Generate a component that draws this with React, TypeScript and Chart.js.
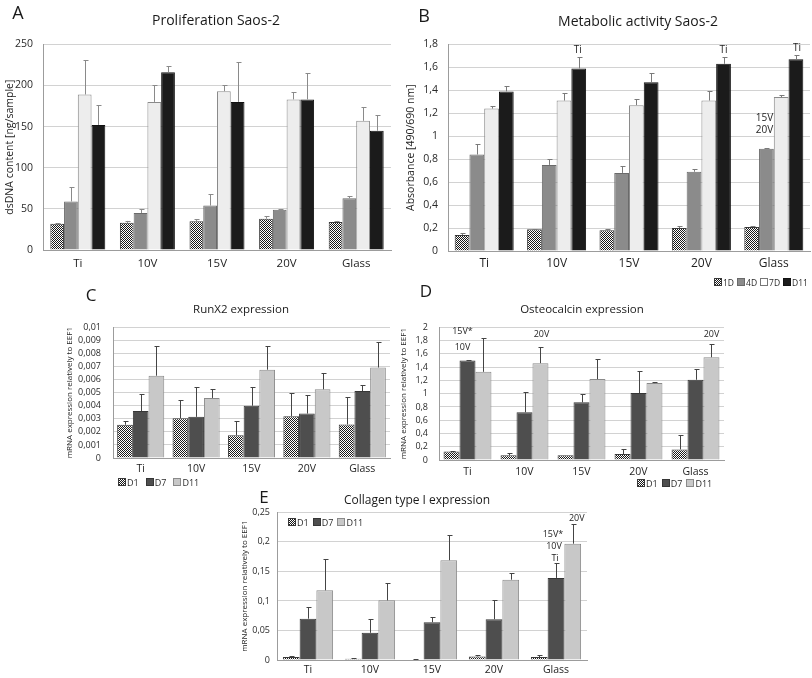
import React, { useEffect, useRef } from 'react';
import { Chart, registerables } from 'chart.js';
Chart.register(...registerables);

const FONT = '"Open Sans", Lato, sans-serif';

const groups = ['Ti', '10V', '15V', '20V', 'Glass'];

// A: Proliferation Saos-2 (dsDNA ng/sample)
const profNames = ['1D', '4D', '7D', 'D11'];
const prof1D = [32, 33, 35, 38, 34];
const prof1DErr = [1, 2, 3, 3, 1];
const prof4D = [59, 45, 54, 49, 63];
const prof4DErr = [18, 5, 14, 1, 3];
const prof7D = [189, 180, 193, 183, 157];
const prof7DErr = [42, 21, 8, 9, 17];
const profD11 = [152, 216, 180, 183, 145];
const profD11Err = [24, 8, 49, 32, 19];

// B: Metabolic activity Saos-2 (absorbance)
const met1D = [0.14, 0.19, 0.18, 0.2, 0.21];
const met1DErr = [0.02, 0.005, 0.01, 0.015, 0.005];
const met4D = [0.84, 0.75, 0.68, 0.69, 0.89];
const met4DErr = [0.09, 0.05, 0.06, 0.025, 0.01];
const met7D = [1.24, 1.31, 1.27, 1.31, 1.34];
const met7DErr = [0.02, 0.07, 0.05, 0.08, 0.02];
const metD11 = [1.39, 1.59, 1.47, 1.63, 1.67];
const metD11Err = [0.05, 0.1, 0.08, 0.06, 0.04];

// C/D/E series names
const exprNames = ['D1', 'D7', 'D11'];

// C: RunX2 expression
const runD1 = [0.00255, 0.00305, 0.00175, 0.0032, 0.00257];
const runD1Err = [0.0003, 0.0014, 0.0011, 0.00176, 0.0021];
const runD7 = [0.0036, 0.00315, 0.004, 0.0034, 0.00513];
const runD7Err = [0.0013, 0.0023, 0.0014, 0.0014, 0.00047];
const runD11 = [0.0063, 0.0046, 0.00676, 0.00526, 0.00693];
const runD11Err = [0.00225, 0.00065, 0.00184, 0.00122, 0.00195];

// D: Osteocalcin expression
const ocnD1 = [0.13, 0.07, 0.07, 0.09, 0.16];
const ocnD1Err = [0.01, 0.03, 0, 0.07, 0.21];
const ocnD7 = [1.5, 0.72, 0.87, 1.01, 1.21];
const ocnD7Err = [0.01, 0.3, 0.13, 0.33, 0.17];
const ocnD11 = [1.33, 1.46, 1.22, 1.16, 1.55];
const ocnD11Err = [0.51, 0.24, 0.3, 0.01, 0.2];

// E: Collagen type I expression
const colD1 = [0.005, 0.002, 0.001, 0.006, 0.005];
const colD1Err = [0.002, 0.001, 0.001, 0.003, 0.004];
const colD7 = [0.07, 0.046, 0.064, 0.069, 0.139];
const colD7Err = [0.019, 0.024, 0.009, 0.032, 0.025];
const colD11 = [0.118, 0.101, 0.169, 0.136, 0.197];
const colD11Err = [0.053, 0.03, 0.043, 0.011, 0.033];

// significance labels: [dataset index, category index, text lines]
const metNotes = [
  { ds: 3, cat: 1, lines: [{ t: 'Ti', dx: -1, dy: -7 }] },
  { ds: 3, cat: 3, lines: [{ t: 'Ti', dx: 0, dy: -7 }] },
  { ds: 3, cat: 4, lines: [{ t: 'Ti', dx: 1, dy: -6 }] },
  { ds: 1, cat: 4, lines: [{ t: '15V', dx: -2, dy: -29 }, { t: '20V', dx: -2, dy: -17 }] },
];
const ocnNotes = [
  { ds: 1, cat: 0, lines: [{ t: '15V*', dx: -5, dy: -28 }, { t: '10V', dx: -5, dy: -12 }] },
  { ds: 2, cat: 1, lines: [{ t: '20V', dx: 1, dy: -13 }] },
  { ds: 2, cat: 4, lines: [{ t: '20V', dx: 0, dy: -10 }] },
];
const colNotes = [
  { ds: 2, cat: 4, lines: [{ t: '20V', dx: 4, dy: -6 }] },
  { ds: 1, cat: 4, lines: [{ t: '15V*', dx: -3, dy: -29 }, { t: '10V', dx: -2, dy: -17 }, { t: 'Ti', dx: -1, dy: -5 }] },
];

const fmt = (v: number, dec: number) => {
  let s = v.toFixed(dec);
  if (s.includes('.')) s = s.replace(/0+$/, '').replace(/\.$/, '');
  return s.replace('.', ',');
};

function makeChecker(ctx: CanvasRenderingContext2D) {
  const c = document.createElement('canvas');
  c.width = 2;
  c.height = 2;
  const g = c.getContext('2d')!;
  g.fillStyle = '#ffffff';
  g.fillRect(0, 0, 2, 2);
  g.fillStyle = '#1a1a1a';
  g.fillRect(0, 0, 1, 1);
  g.fillRect(1, 1, 1, 1);
  return ctx.createPattern(c, 'repeat')!;
}

function errPlugin(color: string, cap: number) {
  return {
    id: 'errbars',
    afterDatasetsDraw(chart: any) {
      const ctx = chart.ctx;
      const ys = chart.scales.y;
      chart.data.datasets.forEach((ds: any, i: number) => {
        const meta = chart.getDatasetMeta(i);
        meta.data.forEach((el: any, j: number) => {
          const e = ds.errors[j];
          if (!e) return;
          const top = Math.round(ys.getPixelForValue(ds.data[j] + e)) + 0.5;
          const x = Math.round(el.x) + 0.5;
          ctx.save();
          ctx.strokeStyle = color;
          ctx.lineWidth = 1;
          ctx.beginPath();
          ctx.moveTo(x, el.y);
          ctx.lineTo(x, top);
          ctx.moveTo(x - cap, top);
          ctx.lineTo(x + cap + 1, top);
          ctx.stroke();
          ctx.restore();
        });
      });
    },
  };
}

function notePlugin(items: any[], size: number, color: string) {
  return {
    id: 'notes',
    afterDatasetsDraw(chart: any) {
      const ctx = chart.ctx;
      const ys = chart.scales.y;
      ctx.save();
      ctx.font = `${size}px ${FONT}`;
      ctx.fillStyle = color;
      ctx.textAlign = 'center';
      ctx.textBaseline = 'middle';
      items.forEach((it) => {
        const ds = chart.data.datasets[it.ds];
        const el = chart.getDatasetMeta(it.ds).data[it.cat];
        const top = ys.getPixelForValue(ds.data[it.cat] + ds.errors[it.cat]);
        it.lines.forEach((l: any) => ctx.fillText(l.t, el.x + l.dx, top + l.dy));
      });
      ctx.restore();
    },
  };
}

type DS = { label: string; data: number[]; errors: number[]; fill: string; border: string };

function BarPanel(p: {
  left: number; top: number; width: number; height: number;
  padT: number; padR: number; yW: number; xH: number;
  yMax: number; yStep: number; dec: number;
  yTitle: string; yTitleSize: number; yTitlePad: number;
  tickSize: number; tickPad: number; xSize: number; xPad: number;
  cp: number; sets: DS[]; errColor: string; cap: number;
  notes: any[]; noteSize: number;
}) {
  const ref = useRef<HTMLCanvasElement>(null);
  useEffect(() => {
    const canvas = ref.current!;
    const ctx = canvas.getContext('2d')!;
    const checker = makeChecker(ctx);
    const chart = new Chart(ctx, {
      type: 'bar',
      data: {
        labels: groups,
        datasets: p.sets.map((s) => ({
          label: s.label,
          data: s.data,
          errors: s.errors,
          backgroundColor: s.fill === 'checker' ? checker : s.fill,
          borderColor: s.border,
          borderWidth: 1,
          categoryPercentage: p.cp,
          barPercentage: 1,
        })) as any,
      },
      options: {
        responsive: false,
        animation: false,
        devicePixelRatio: 1,
        layout: { padding: { left: 0, right: p.padR, top: p.padT, bottom: 0 } },
        plugins: { legend: { display: false }, tooltip: { enabled: false }, title: { display: false } },
        scales: {
          x: {
            grid: { display: false, drawTicks: false },
            border: { display: true, color: '#9c9c9c' },
            ticks: {
              color: '#1e1e1e',
              font: { family: FONT, size: p.xSize },
              padding: p.xPad,
              autoSkip: false,
              maxRotation: 0,
            },
            afterFit: (s: any) => { s.height = p.xH; },
          },
          y: {
            min: 0,
            max: p.yMax,
            ticks: {
              stepSize: p.yStep,
              autoSkip: false,
              color: '#2a2a2a',
              font: { family: FONT, size: p.tickSize },
              padding: p.tickPad,
              callback: (v: any) => fmt(Number(v), p.dec),
            },
            grid: { color: '#d2d2d2', drawTicks: false },
            border: { display: true, color: '#9c9c9c' },
            title: {
              display: true,
              text: p.yTitle,
              color: '#1e1e1e',
              font: { family: FONT, size: p.yTitleSize },
              padding: { top: p.yTitlePad, bottom: 0 },
            },
            afterFit: (s: any) => { s.width = p.yW; },
          },
        },
      } as any,
      plugins: [errPlugin(p.errColor, p.cap), notePlugin(p.notes, p.noteSize, '#1e1e1e')],
    });
    return () => chart.destroy();
  }, []);
  return (
    <canvas
      ref={ref}
      width={p.width}
      height={p.height}
      style={{ position: 'absolute', left: p.left, top: p.top, width: p.width, height: p.height }}
    />
  );
}

function Txt({ x, y, size, children, family = FONT, color = '#1a1a1a' }: any) {
  return (
    <div
      style={{
        position: 'absolute', left: x - 200, top: y - size, width: 400, height: size * 2,
        lineHeight: `${size * 2}px`, fontSize: size, fontFamily: family, color,
        textAlign: 'center', whiteSpace: 'nowrap',
      }}
    >
      {children}
    </div>
  );
}

function Legend({ x, y, items, size, gap }: any) {
  return (
    <div
      style={{
        position: 'absolute', left: x, top: y - 7, height: 14, display: 'flex', alignItems: 'center',
        gap, fontFamily: FONT, fontSize: size, color: '#2a2a2a', whiteSpace: 'nowrap',
      }}
    >
      {items.map((it: any) => (
        <span key={it.label} style={{ display: 'flex', alignItems: 'center', gap: 1 }}>
          <span
            style={{
              display: 'inline-block', width: 6, height: 6, border: `1px solid ${it.border}`,
              background: it.fill === 'checker'
                ? 'repeating-conic-gradient(#1a1a1a 0 25%, #ffffff 0 50%) 0 0 / 2px 2px'
                : it.fill,
            }}
          />
          <span>{it.label}</span>
        </span>
      ))}
    </div>
  );
}

const ab = {
  c1: { fill: 'checker', border: '#3a3a3a' },
  c4: { fill: '#8b8b8b', border: '#6a6a6a' },
  c7: { fill: '#ededed', border: '#8a8a8a' },
  c11: { fill: '#1b1b1b', border: '#111111' },
};
const cde = {
  c1: { fill: 'checker', border: '#3a3a3a' },
  c7: { fill: '#4e4e4e', border: '#363636' },
  c11: { fill: '#c8c8c8', border: '#8a8a8a' },
};

export default function App() {
  const setsA: DS[] = [
    { label: profNames[0], data: prof1D, errors: prof1DErr, ...ab.c1 },
    { label: profNames[1], data: prof4D, errors: prof4DErr, ...ab.c4 },
    { label: profNames[2], data: prof7D, errors: prof7DErr, ...ab.c7 },
    { label: profNames[3], data: profD11, errors: profD11Err, ...ab.c11 },
  ];
  const setsB: DS[] = [
    { label: profNames[0], data: met1D, errors: met1DErr, ...ab.c1 },
    { label: profNames[1], data: met4D, errors: met4DErr, ...ab.c4 },
    { label: profNames[2], data: met7D, errors: met7DErr, ...ab.c7 },
    { label: profNames[3], data: metD11, errors: metD11Err, ...ab.c11 },
  ];
  const setsC: DS[] = [
    { label: exprNames[0], data: runD1, errors: runD1Err, ...cde.c1 },
    { label: exprNames[1], data: runD7, errors: runD7Err, ...cde.c7 },
    { label: exprNames[2], data: runD11, errors: runD11Err, ...cde.c11 },
  ];
  const setsD: DS[] = [
    { label: exprNames[0], data: ocnD1, errors: ocnD1Err, ...cde.c1 },
    { label: exprNames[1], data: ocnD7, errors: ocnD7Err, ...cde.c7 },
    { label: exprNames[2], data: ocnD11, errors: ocnD11Err, ...cde.c11 },
  ];
  const setsE: DS[] = [
    { label: exprNames[0], data: colD1, errors: colD1Err, ...cde.c1 },
    { label: exprNames[1], data: colD7, errors: colD7Err, ...cde.c7 },
    { label: exprNames[2], data: colD11, errors: colD11Err, ...cde.c11 },
  ];
  const legAB = [
    { label: '1D', ...ab.c1 },
    { label: '4D', ...ab.c4 },
    { label: '7D', fill: '#ffffff', border: '#777' },
    { label: 'D11', ...ab.c11 },
  ];
  const legCDE = [
    { label: 'D1', ...cde.c1 },
    { label: 'D7', ...cde.c7 },
    { label: 'D11', ...cde.c11 },
  ];
  return (
    <div style={{ position: 'absolute', left: 0, top: 0, width: 812, height: 678, background: '#fff', overflow: 'hidden' }}>
      <BarPanel
        left={0} top={28} width={400} height={258} padT={14} padR={9} yW={43} xH={36}
        yMax={250} yStep={50} dec={0}
        yTitle="dsDNA content [ng/sample]" yTitleSize={10.5} yTitlePad={4}
        tickSize={10.5} tickPad={10} xSize={11.5} xPad={7}
        cp={0.79} sets={setsA} errColor="#8a8a8a" cap={2} notes={[]} noteSize={11}
      />
      <BarPanel
        left={400} top={28} width={412} height={262} padT={14} padR={2} yW={48} xH={39}
        yMax={1.8} yStep={0.2} dec={1}
        yTitle="Absorbance [490/690 nm]" yTitleSize={10.5} yTitlePad={5}
        tickSize={10.5} tickPad={10} xSize={12} xPad={5}
        cp={0.815} sets={setsB} errColor="#7a7a7a" cap={2} notes={metNotes} noteSize={10}
      />
      <BarPanel
        left={60} top={310} width={335} height={172} padT={10} padR={5} yW={53} xH={24}
        yMax={0.01} yStep={0.001} dec={3}
        yTitle="mRNA expression relatively to EEF1" yTitleSize={8} yTitlePad={5}
        tickSize={9} tickPad={12} xSize={10.5} xPad={5}
        cp={0.85} sets={setsC} errColor="#444444" cap={2} notes={[]} noteSize={10}
      />
      <BarPanel
        left={394} top={311} width={334} height={173} padT={10} padR={4} yW={45} xH={24}
        yMax={2} yStep={0.2} dec={1}
        yTitle="mRNA expression relatively to EEF1" yTitleSize={8} yTitlePad={5}
        tickSize={9} tickPad={11} xSize={10.5} xPad={6}
        cp={0.84} sets={setsD} errColor="#444444" cap={2} notes={ocnNotes} noteSize={9}
      />
      <BarPanel
        left={235} top={500} width={357} height={178} padT={12} padR={5} yW={42} xH={18}
        yMax={0.25} yStep={0.05} dec={2}
        yTitle="mRNA expression relatively to EEF1" yTitleSize={8} yTitlePad={5}
        tickSize={9} tickPad={7} xSize={10.5} xPad={4}
        cp={0.81} sets={setsE} errColor="#444444" cap={2} notes={colNotes} noteSize={9}
      />

      <Txt x={18} y={12} size={18}>A</Txt>
      <Txt x={424} y={15} size={18}>B</Txt>
      <Txt x={91} y={295} size={17}>C</Txt>
      <Txt x={426} y={291} size={17}>D</Txt>
      <Txt x={264} y={497} size={17}>E</Txt>

      <Txt x={216} y={20} size={14}>Proliferation Saos-2</Txt>
      <Txt x={638} y={21} size={14}>Metabolic activity Saos-2</Txt>
      <Txt x={241} y={308} size={11.5}>RunX2 expression</Txt>
      <Txt x={582} y={308} size={11.5}>Osteocalcin expression</Txt>
      <Txt x={417} y={500} size={12}>Collagen type I expression</Txt>

      <Legend x={714} y={282} items={legAB} size={8.5} gap={3} />
      <Legend x={118} y={482} items={legCDE} size={9} gap={7} />
      <Legend x={637} y={483} items={legCDE} size={9} gap={4} />
      <Legend x={288} y={522} items={legCDE} size={9} gap={4} />
    </div>
  );
}
